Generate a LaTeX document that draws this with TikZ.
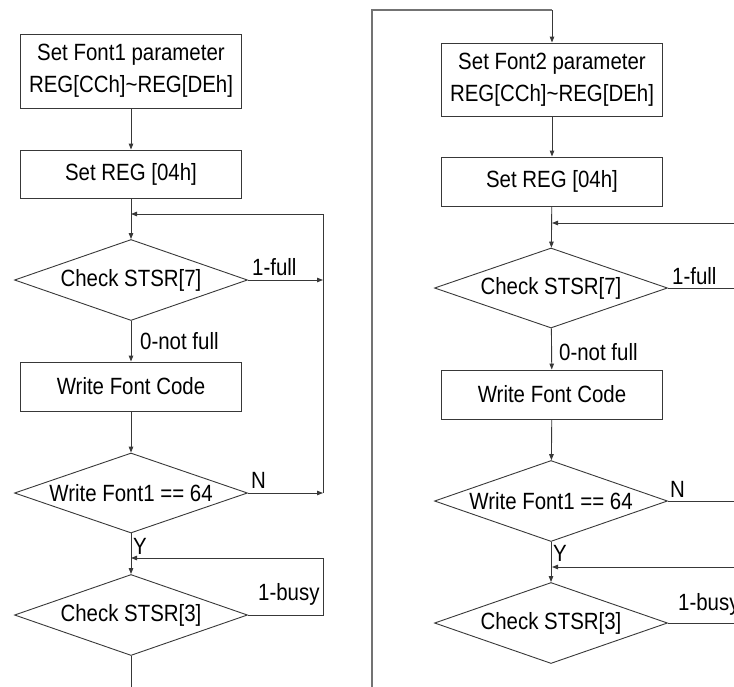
\documentclass[tikz,border=0pt]{standalone}
\usepackage{fontspec}
\setmainfont[FakeStretch=0.87]{Liberation Sans}
\usetikzlibrary{shapes.geometric,arrows.meta}
\begin{document}
\begin{tikzpicture}[x=1pt,y=-1pt,
  line/.style={draw=black!78,line width=0.9pt},
  arr/.style={line,-{Triangle[length=6pt,width=4.5pt]}},
  feed/.style={draw=black!55,line width=1.6pt},
  txt/.style={font=\fontsize{23.5}{32}\selectfont},
  box/.style={txt,draw=black!78,line width=0.9pt,rectangle,minimum width=221pt,inner sep=0pt,align=center},
  dia/.style={txt,draw=black!78,line width=0.9pt,diamond,minimum width=233pt,minimum height=81pt,inner sep=0pt},
  lab/.style={txt,anchor=base west,inner sep=0pt}]
\useasboundingbox (0,0) rectangle (734,686);
\clip (0,0) rectangle (734,686);
% ---------- left column ----------
\node[box,minimum height=74pt] (b1) at (131,71) {Set Font1 parameter\\REG[CCh]\textasciitilde REG[DEh]};
\node[box,minimum height=48pt] (b2) at (131,174) {Set REG [04h]};
\node[dia] (d1) at (131,280) {\makebox[0pt]{Check STSR[7]}};
\node[box,minimum height=49pt] (b3) at (131,386.5) {Write Font Code};
\node[dia,minimum height=80pt] (d2) at (131,493) {\makebox[0pt]{Write Font1 == 64}};
\node[dia] (d3) at (131,615) {\makebox[0pt]{Check STSR[3]}};
\coordinate (r1) at (323,280);
\coordinate (r2) at (323,493);
\coordinate (t1) at (323,214);
\coordinate (m1) at (131,214);
\coordinate (q1) at (323,615);
\coordinate (q2) at (323,558);
\coordinate (m2) at (131,558);
\coordinate (bot1) at (131,700);
\draw[arr] (b1) -- (b2);
\draw[arr] (b2) -- (d1);
\draw[arr] (d1) -- (b3);
\draw[arr] (b3) -- (d2);
\draw[arr] (d2) -- (d3);
\draw[line] (d3.south) -- (bot1);
\draw[arr] (d1.east) -- (r1);
\draw[arr] (d2.east) -- (r2);
\draw[arr] (r2) -- (t1) -- (m1);
\draw[arr] (d3.east) -- (q1) -- (q2) -- (m2);
\node[lab] (l1) at (252,275) {1-full};
\node[lab] (l2) at (140,349) {0-not full};
\node[lab] (l3) at (251,488) {N};
\node[lab] (l4) at (133,554) {Y};
\node[lab] (l5) at (258,600) {1-busy};
% ---------- right column ----------
\node[box,minimum height=73pt] (B1) at (552,79.5) {Set Font2 parameter\\REG[CCh]\textasciitilde REG[DEh]};
\node[box,minimum height=49pt] (B2) at (552,181.5) {Set REG [04h]};
\node[dia,minimum height=80pt] (D1) at (551,288) {\makebox[0pt]{Check STSR[7]}};
\node[box,minimum height=49pt] (B3) at (552,394.5) {Write Font Code};
\node[dia] (D2) at (551,501) {\makebox[0pt]{Write Font1 == 64}};
\node[dia] (D3) at (551,623) {\makebox[0pt]{Check STSR[3]}};
\coordinate (s0) at (372,700);
\coordinate (s1) at (372,10);
\coordinate (s2) at (552,10);
\coordinate (E1) at (745,223);
\coordinate (M1) at (552,223);
\coordinate (E2) at (745,288);
\coordinate (E3) at (745,501);
\coordinate (E4) at (745,567);
\coordinate (M2) at (552,567);
\coordinate (E5) at (745,623);
\draw[feed] (s0) -- (s1) -- (s2);
\draw[arr] (s2) -- (B1.north);
\draw[arr] (B1) -- (B2);
\draw[arr] (B2) -- (D1);
\draw[arr] (D1) -- (B3);
\draw[arr] (B3) -- (D2);
\draw[arr] (D2) -- (D3);
\draw[arr] (E1) -- (M1);
\draw[line] (D1.east) -- (E2);
\draw[line] (D2.east) -- (E3);
\draw[arr] (E4) -- (M2);
\draw[line] (D3.east) -- (E5);
\node[lab] (L1) at (672,284) {1-full};
\node[lab] (L2) at (559,360) {0-not full};
\node[lab] (L3) at (670,497) {N};
\node[lab] (L4) at (553,561) {Y};
\node[lab] (L5) at (678,610) {1-busy};
\end{tikzpicture}
\end{document}
